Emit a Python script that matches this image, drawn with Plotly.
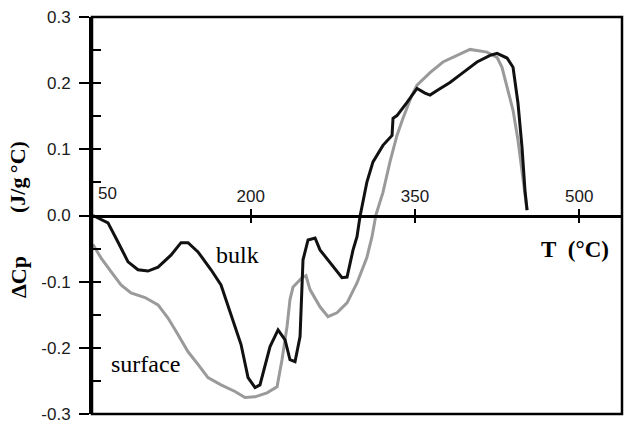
import plotly.graph_objects as go

# Temperature (°C) and heat-capacity difference (J/g°C) for each sample
bulk_T = [55.9, 69.6, 78.7, 87.9, 97.0, 106.1, 115.3, 127.1, 136.3, 142.7, 151.8,
          163.7, 172.8, 181.9, 191.1, 197.5, 203.9, 208.4, 217.6, 224.9, 231.3,
          235.8, 240.4, 245.0, 247.7, 252.3, 258.7, 263.2, 272.4, 283.3, 287.9,
          293.4, 297.0, 299.7, 306.1, 311.6, 320.7, 329.0, 329.9, 333.5, 342.7,
          351.8, 359.1, 363.7, 370.1, 381.9, 393.8, 406.6, 418.5, 424.9, 434.0,
          439.5, 444.0, 447.7, 450.4, 452.3]
bulk_dCp = [0.000, -0.011, -0.040, -0.070, -0.082, -0.084, -0.078, -0.060, -0.041,
            -0.041, -0.055, -0.082, -0.105, -0.150, -0.195, -0.245, -0.260, -0.256,
            -0.198, -0.173, -0.188, -0.218, -0.221, -0.183, -0.067, -0.037, -0.034,
            -0.052, -0.072, -0.094, -0.093, -0.052, -0.032, -0.002, 0.051, 0.081,
            0.106, 0.121, 0.147, 0.151, 0.171, 0.192, 0.185, 0.182, 0.189, 0.201,
            0.216, 0.232, 0.242, 0.245, 0.238, 0.224, 0.170, 0.103, 0.038, 0.008]

surface_T = [55.9, 63.2, 72.4, 81.5, 90.6, 103.4, 115.3, 124.4, 133.5, 142.7, 151.8,
             160.9, 172.8, 185.6, 194.7, 203.9, 214.8, 224.0, 228.5, 233.1, 235.8,
             238.6, 246.8, 250.4, 254.1, 263.2, 270.5, 278.7, 287.9, 297.0, 306.1,
             310.7, 314.3, 320.7, 327.1, 333.5, 339.0, 347.2, 351.8, 363.7, 375.5,
             388.3, 400.2, 415.7, 424.9, 429.4, 434.0, 439.5, 444.0, 448.6, 451.3,
             452.3]
surface_dCp = [-0.044, -0.064, -0.085, -0.105, -0.117, -0.124, -0.135, -0.155, -0.180,
               -0.206, -0.225, -0.245, -0.256, -0.266, -0.275, -0.274, -0.268, -0.259,
               -0.218, -0.168, -0.127, -0.108, -0.094, -0.091, -0.112, -0.138, -0.153,
               -0.147, -0.132, -0.102, -0.063, -0.032, 0.001, 0.035, 0.081, 0.121,
               0.147, 0.182, 0.197, 0.216, 0.232, 0.242, 0.251, 0.247, 0.239, 0.224,
               0.194, 0.159, 0.114, 0.058, 0.023, 0.008]

x_ticks = [200, 350, 500]
x_tick_text = ["200", "350", "500"]
y_ticks = [-0.3, -0.2, -0.1, 0.0, 0.1, 0.2, 0.3]
y_tick_text = ["-0.3", "-0.2", "-0.1", "0.0", "0.1", "0.2", "0.3"]

X_RANGE = [55, 539]
Y_RANGE = [-0.3, 0.3]
TICK_FONT = dict(family="Liberation Sans, Arial, sans-serif", size=17, color="#1a1a1a")
SERIF = "Liberation Serif, Times New Roman, serif"

# plot area in pixels, used to place the free-standing labels
L, R, T, B = 92, 3, 17, 13
W, H = 625, 427
PW, PH = W - L - R, H - T - B


def px(xp):
    return (xp - L) / PW


def py(yp):
    return 1 - (yp - T) / PH


fig = go.Figure()
fig.add_trace(go.Scatter(x=surface_T, y=surface_dCp, mode="lines",
                         line=dict(color="#9a9a9a", width=3), showlegend=False))
fig.add_trace(go.Scatter(x=bulk_T, y=bulk_dCp, mode="lines",
                         line=dict(color="#111", width=3), showlegend=False))
# empty trace so the secondary tick axes get drawn
fig.add_trace(go.Scatter(x=[None], y=[None], xaxis="x2", yaxis="y2",
                         showlegend=False, hoverinfo="skip"))

fig.update_layout(
    width=W, height=H,
    margin=dict(l=L, r=R, t=T, b=B),
    paper_bgcolor="white", plot_bgcolor="white",
    xaxis=dict(range=X_RANGE, anchor="free", position=0.5, side="top",
               tickvals=x_ticks, ticktext=x_tick_text, ticks="outside",
               ticklen=6, tickwidth=2, tickcolor="black",
               showline=True, linewidth=2.5, linecolor="black",
               showgrid=False, zeroline=False, tickfont=TICK_FONT),
    xaxis2=dict(range=X_RANGE, overlaying="x", anchor="free", position=0.5,
                side="bottom", tickvals=x_ticks, ticks="outside", ticklen=6,
                tickwidth=2, tickcolor="black", showticklabels=False,
                showline=False, showgrid=False, zeroline=False),
    yaxis=dict(range=Y_RANGE, tickvals=y_ticks, ticktext=y_tick_text,
               ticks="outside", ticklen=10, tickwidth=2, tickcolor="black",
               showline=True, linewidth=3, linecolor="black",
               showgrid=False, zeroline=False, tickfont=TICK_FONT,
               ticklabelstandoff=5),
    yaxis2=dict(range=Y_RANGE, overlaying="y", anchor="free", position=0,
                side="left", dtick=0.05, tick0=0, ticks="inside", ticklen=8,
                tickwidth=2, tickcolor="black", showticklabels=False,
                showline=False, showgrid=False, zeroline=False),
    shapes=[dict(type="rect", xref="paper", yref="paper", x0=0, y0=0, x1=1, y1=1,
                 line=dict(color="black", width=2.5))],
)


def label(xp, yp, text, font, angle=0):
    return dict(x=px(xp), y=py(yp), xref="paper", yref="paper", text=text,
                showarrow=False, xanchor="center", yanchor="middle",
                textangle=angle, font=font)


title_font = dict(family=SERIF, size=22, color="black")
curve_font = dict(family=SERIF, size=24, color="black")

fig.update_layout(annotations=[
    label(107, 193, "50", TICK_FONT),
    label(18, 277, "<b>ΔCp</b>", title_font, -90),
    label(18, 177, "<b>(J/g\u2009°C)</b>", title_font, -90),
    label(575, 250, "<b>T\u00a0\u00a0(°C)</b>", dict(family=SERIF, size=23, color="black")),
    label(237, 255, "bulk", curve_font),
    label(145, 364, "surface", curve_font),
])

fig.write_html("out.html")
